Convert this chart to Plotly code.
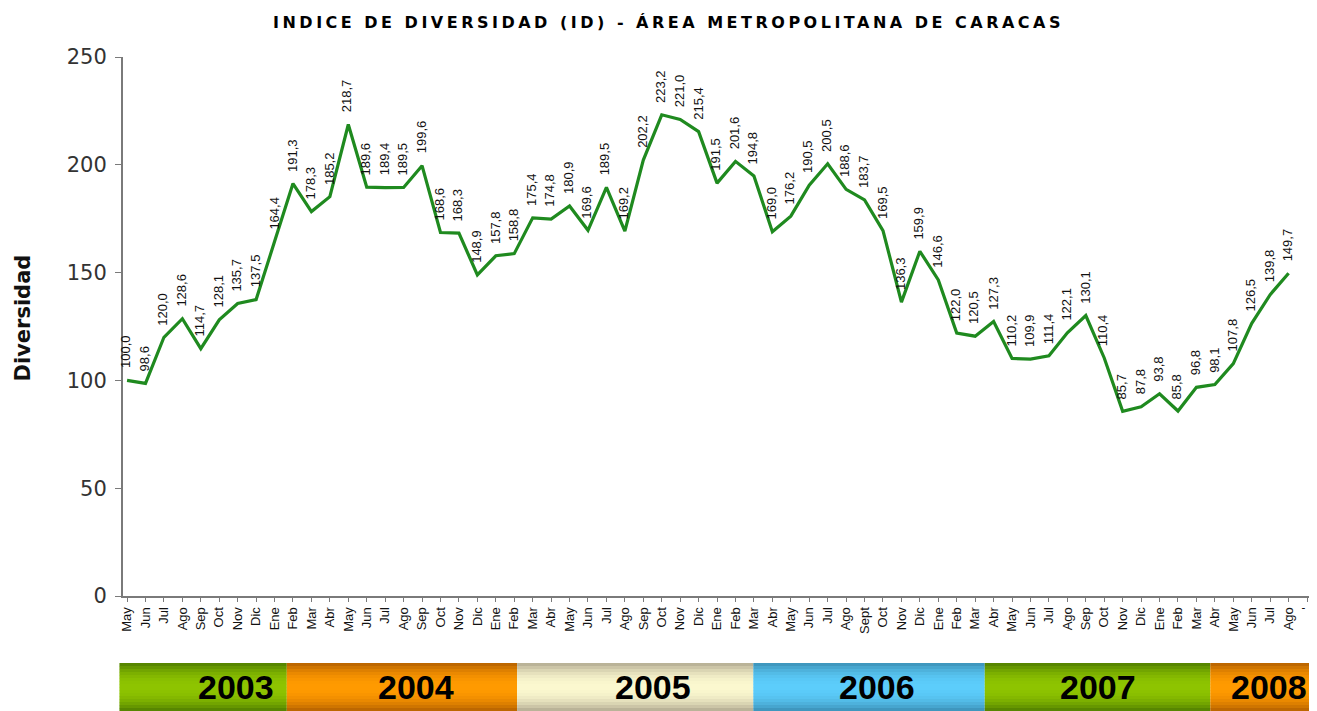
import plotly.graph_objects as go

months = ["May","Jun","Jul","Ago","Sep","Oct","Nov","Dic",
          "Ene","Feb","Mar","Abr","May","Jun","Jul","Ago","Sep","Oct","Nov","Dic",
          "Ene","Feb","Mar","Abr","May","Jun","Jul","Ago","Sep","Oct","Nov","Dic",
          "Ene","Feb","Mar","Abr","May","Jun","Jul","Ago","Sept","Oct","Nov","Dic",
          "Ene","Feb","Mar","Abr","May","Jun","Jul","Ago","Sep","Oct","Nov","Dic",
          "Ene","Feb","Mar","Abr","May","Jun","Jul","Ago"]
tick_labels = months + ["'"]

values = [100.0, 98.6, 120.0, 128.6, 114.7, 128.1, 135.7, 137.5,
          164.4, 191.3, 178.3, 185.2, 218.7, 189.6, 189.4, 189.5, 199.6, 168.6, 168.3, 148.9,
          157.8, 158.8, 175.4, 174.8, 180.9, 169.6, 189.5, 169.2, 202.2, 223.2, 221.0, 215.4,
          191.5, 201.6, 194.8, 169.0, 176.2, 190.5, 200.5, 188.6, 183.7, 169.5, 136.3, 159.9,
          146.6, 122.0, 120.5, 127.3, 110.2, 109.9, 111.4, 122.1, 130.1, 110.4, 85.7, 87.8,
          93.8, 85.8, 96.8, 98.1, 107.8, 126.5, 139.8, 149.7]

years = ["2003", "2004", "2005", "2006", "2007", "2008"]
year_bounds = [-0.003, 0.138, 0.332, 0.531, 0.726, 0.916, 1.006]
year_text_x = [0.0952, 0.2468, 0.4465, 0.6352, 0.8214, 0.9655]
year_mid = ["#8ec400", "#ff9a00", "#fbf8cf", "#5ccdfb", "#8ec400", "#ff9a00"]
year_edge = ["#4f7d00", "#b35f00", "#b0a890", "#3b8fb5", "#4f7d00", "#b35f00"]

x = list(range(len(values)))

fig = go.Figure()
fig.add_trace(go.Scatter(x=x, y=values, mode="lines",
                         line=dict(color="#1f8a1f", width=3.2), hoverinfo="y"))

annotations = []
for xi, v in zip(x, values):
    annotations.append(dict(x=xi, y=v, xref="x", yref="y",
                            text=f"{v:.1f}".replace(".", ","), textangle=-90,
                            showarrow=False, xanchor="center", yanchor="bottom",
                            yshift=10, xshift=-1,
                            font=dict(family="Liberation Sans, Arial", size=13, color="#111")))


def hexrgb(h):
    h = h.lstrip("#")
    return tuple(int(h[i:i+2], 16) for i in (0, 2, 4))


def mix(a, b, t):
    ra, rb = hexrgb(a), hexrgb(b)
    return "rgb(%d,%d,%d)" % tuple(round(ra[i] + (rb[i] - ra[i]) * t) for i in range(3))


shapes = []
y_top, y_bot = -0.1243, -0.2134
n = 16
for i in range(len(years)):
    x0, x1 = year_bounds[i], year_bounds[i + 1]
    for k in range(n):
        f0 = k / n
        f1 = (k + 1) / n
        c = (f0 + f1) / 2
        d = abs(c - 0.5) * 2
        t = d ** 2.2
        shapes.append(dict(type="rect", xref="paper", yref="paper",
                           x0=x0, x1=x1,
                           y0=y_top + (y_bot - y_top) * f0,
                           y1=y_top + (y_bot - y_top) * f1 - 0.0005,
                           fillcolor=mix(year_mid[i], year_edge[i], t),
                           line=dict(width=0), layer="below"))
    annotations.append(dict(x=year_text_x[i], y=(y_top + y_bot) / 2, xref="paper", yref="paper",
                            text=f"<b>{years[i]}</b>", showarrow=False,
                            xanchor="center", yanchor="middle",
                            font=dict(family="Liberation Sans, Arial", size=34, color="#000")))

annotations.append(dict(x=0.5, y=1, xref="paper", yref="paper",
                        text='<b><span style="letter-spacing:3.5px">INDICE DE DIVERSIDAD (ID) - ÁREA METROPOLITANA DE CARACAS</span></b>',
                        showarrow=False, xanchor="center", yanchor="middle",
                        yshift=35, xshift=-48,
                        font=dict(family="DejaVu Sans, Verdana", size=16, color="#000")))

annotations.append(dict(x=0, y=0.5, xref="paper", yref="paper",
                        text="<b>Diversidad</b>", textangle=-90, showarrow=False,
                        xanchor="center", yanchor="middle", xshift=-101, yshift=8,
                        font=dict(family="DejaVu Sans, Arial", size=21, color="#111")))

# page body adds an 8px margin; figure is sized/offset to compensate
fig.update_layout(
    width=1309, height=703,
    margin=dict(l=115, r=7, t=49, b=115, autoexpand=False),
    paper_bgcolor="white", plot_bgcolor="white",
    showlegend=False,
    shapes=shapes, annotations=annotations,
    font=dict(family="Liberation Sans, Arial", color="#222"),
)
fig.update_xaxes(range=[-0.22, 64.16], tickmode="array",
                 tickvals=list(range(len(tick_labels))), ticktext=tick_labels,
                 tickangle=-90, tickfont=dict(size=13, color="#111"),
                 showline=True, linecolor="#7a7a7a", linewidth=2,
                 ticks="outside", ticklen=4, tickcolor="#7a7a7a",
                 showgrid=False, zeroline=False, fixedrange=True, automargin=False)
fig.update_yaxes(range=[0, 250], tickvals=[0, 50, 100, 150, 200, 250],
                 tickfont=dict(family="DejaVu Sans, Arial", size=21, color="#333"),
                 showline=True, linecolor="#7a7a7a", linewidth=2,
                 ticks="outside", ticklen=6, tickcolor="#7a7a7a",
                 ticklabelstandoff=4,
                 showgrid=False, zeroline=False, automargin=False,
                 fixedrange=True)

fig.write_html("out.html")
